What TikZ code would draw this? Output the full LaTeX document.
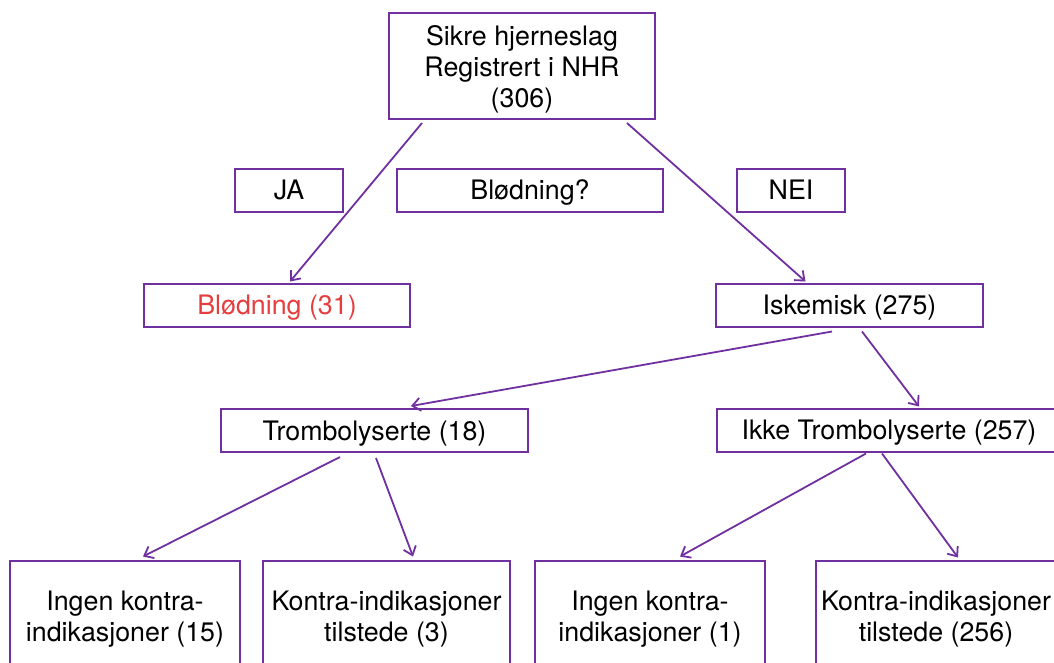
\documentclass[tikz,border=0pt]{standalone}
\usepackage{fontspec}
\setmainfont{TeX Gyre Heros}
\usetikzlibrary{arrows.meta}
\definecolor{nhrpurple}{RGB}{112,48,160}
\definecolor{nhrred}{RGB}{228,62,62}
\tikzset{
    box/.style={draw=nhrpurple, line width=2pt, fill=white, inner sep=1pt, align=center,
        text depth=0pt, font=\fontsize{26.8}{31}\selectfont},
    arr/.style={draw=nhrpurple, line width=1.8pt, -{Straight Barb[length=8pt,width=13pt]}},
}

\begin{document}
\begin{tikzpicture}[x=1pt, y=-1pt]
    \useasboundingbox (0,0) rectangle (1054,662);
    % 	top of the tree
        \node [box, minimum width=266, minimum height=106] (top) at (522,66) {Sikre hjerneslag\\Registrert i NHR\\(306)};
        \node [box, minimum width=108, minimum height=43] (ja) at (289,190) {JA};
        \node [box, minimum width=266, minimum height=43] (q) at (530,190) {Blødning?};
        \node [box, minimum width=108, minimum height=43] (nei) at (791,190) {NEI};
    % 	second level
        \node [box, minimum width=266, minimum height=43, text=nhrred] (bleed) at (277,305) {Blødning (31)};
        \node [box, minimum width=267, minimum height=43] (isk) at (849.5,305) {Iskemisk (275)};
        \node [box, minimum width=307, minimum height=43] (trombo) at (374.5,430.5) {Trombolyserte (18)};
        \node [box, minimum width=344, minimum height=43] (ikke) at (889,430) {Ikke Trombolyserte (257)};
    % 	bottom row
        \node [box, minimum width=230, minimum height=112] (b1) at (125,616.5) {Ingen kontra-\\indikasjoner (15)};
        \node [box, minimum width=247, minimum height=112] (b2) at (386.5,616.5) {Kontra-indikasjoner\\tilstede (3)};
        \node [box, minimum width=230, minimum height=112] (b3) at (650,616.5) {Ingen kontra-\\indikasjoner (1)};
        \node [box, minimum width=240, minimum height=112] (b4) at (936,616.5) {Kontra-indikasjoner\\tilstede (256)};
    % 	arrows
        \draw [arr] ([xshift=-100pt,yshift=-3pt]top.south) -- ([xshift=13pt,yshift=1pt]bleed.north);
        \draw [arr] ([xshift=105pt,yshift=-3pt]top.south) -- ([xshift=-44pt,yshift=1pt]isk.north);
        \draw [arr] ([xshift=-17.5pt,yshift=-4pt]isk.south) -- ([xshift=36.5pt,yshift=2pt]trombo.north);
        \draw [arr] ([xshift=12.5pt,yshift=-4pt]isk.south) -- ([xshift=30pt,yshift=1pt]ikke.north);
        \draw [arr] ([xshift=-34.5pt,yshift=-4pt]trombo.south) -- ([xshift=18pt,yshift=3pt]b1.north);
        \draw [arr] ([xshift=1.5pt,yshift=-5pt]trombo.south) -- ([xshift=26.5pt,yshift=3pt]b2.north);
        \draw [arr] ([xshift=-23pt,yshift=-1pt]ikke.south) -- ([xshift=30pt,yshift=3pt]b3.north);
        \draw [arr] ([xshift=-7pt,yshift=-1pt]ikke.south) -- ([xshift=22pt,yshift=2pt]b4.north);
    \end{tikzpicture}
\end{document}
